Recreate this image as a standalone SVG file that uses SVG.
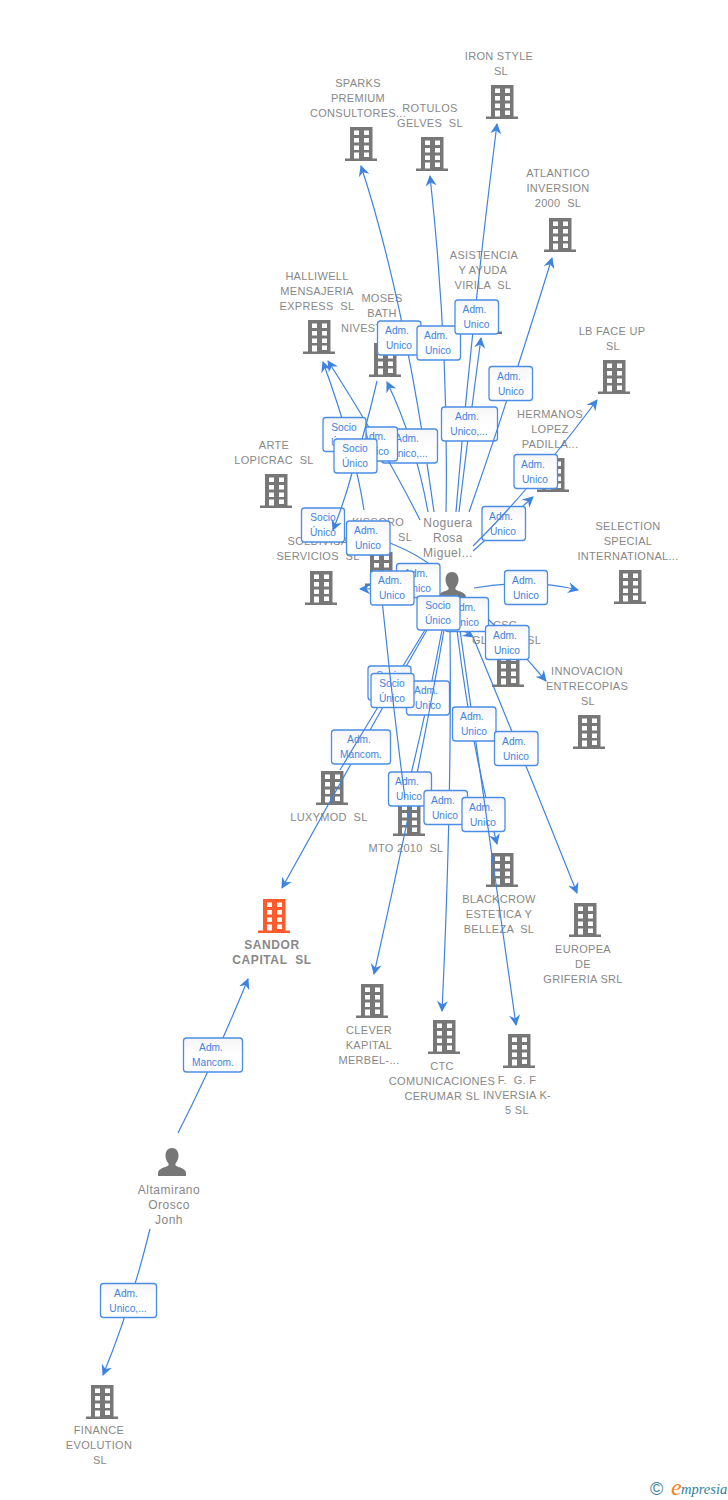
<svg xmlns="http://www.w3.org/2000/svg" width="728" height="1500" viewBox="0 0 728 1500">
<style>
.n{font:11px "Liberation Sans",Arial,sans-serif;letter-spacing:.3px;fill:#888;text-anchor:middle;white-space:pre}
.s{text-anchor:start}
.p{font-size:12px;letter-spacing:.5px}
.h{font-size:12px;font-weight:bold;letter-spacing:.6px}
.e{fill:none;stroke:#3f83e0;stroke-width:1.2}
.a{marker-end:url(#ar)}
.b{fill:url(#bg);stroke:#4a8ce6;stroke-width:1.3}
.t{font:10.2px "Liberation Sans",Arial,sans-serif;fill:#3f83e0;text-anchor:middle}
</style>
<defs>
<linearGradient id="bg" x1="0" y1="0" x2="0" y2="1"><stop offset="0" stop-color="#f5f5f5"/><stop offset=".5" stop-color="#fff"/></linearGradient>
<marker id="ar" viewBox="0 -6 11 12" refX="10" refY="0" markerWidth="11" markerHeight="12" markerUnits="userSpaceOnUse" orient="auto"><path d="M11 0L0 -5.5L3.5 0L0 5.5Z" fill="#3f83e0"/></marker>
<symbol id="bd" width="32" height="34" viewBox="0 0 32 34"><path fill="#777" fill-rule="evenodd" d="M5 0H27.500V31.500H32V34H0V31.500H5ZM9 3.500V8H14V3.500ZM19 3.500V8H24V3.500ZM9 11V15.500H14V11ZM19 11V15.500H24V11ZM9 18.500V23H14V18.500ZM19 18.500V23H24V18.500ZM19 25.500V30H24V25.500ZM9 25.500V31.500H14V25.500Z"/></symbol>
<symbol id="bo" width="32" height="34" viewBox="0 0 32 34"><path fill="#ff5a2b" fill-rule="evenodd" d="M5 0H27.500V31.500H32V34H0V31.500H5ZM9 3.500V8H14V3.500ZM19 3.500V8H24V3.500ZM9 11V15.500H14V11ZM19 11V15.500H24V11ZM9 18.500V23H14V18.500ZM19 18.500V23H24V18.500ZM19 25.500V30H24V25.500ZM9 25.500V31.500H14V25.500Z"/></symbol>
<symbol id="pe" width="28" height="28" viewBox="0 0 28 28"><path fill="#777" d="M14 0C18 0 20.500 3 20.500 7.500C20.500 11 19 14 17.500 15.500V17.500C21 19.500 28 20.500 28 25V28H0V25C0 20.500 7 19.500 10.500 17.500V15.500C9 14 7.500 11 7.500 7.500C7.500 3 10 0 14 0Z"/></symbol>
</defs>
<rect width="728" height="1500" fill="#fff"/>
<g id="n-iron"><use href="#bd" x="486" y="85"/><text class="n" x="499" y="60">IRON STYLE</text><text class="n" x="501" y="75">SL</text></g>
<g id="n-sparks"><use href="#bd" x="345" y="127"/><text class="n" x="358" y="87">SPARKS</text><text class="n" x="358" y="102">PREMIUM</text><text class="n" x="358" y="117">CONSULTORES...</text></g>
<g id="n-rotulos"><use href="#bd" x="416" y="137"/><text class="n" x="430" y="112">ROTULOS</text><text class="n" x="430" y="127">GELVES  SL</text></g>
<g id="n-atlantico"><use href="#bd" x="544" y="218"/><text class="n" x="558" y="177">ATLANTICO</text><text class="n" x="558" y="192">INVERSION</text><text class="n" x="558" y="207">2000  SL</text></g>
<g id="n-asistencia"><use href="#bd" x="470" y="300"/><text class="n" x="484" y="259">ASISTENCIA</text><text class="n" x="483" y="274">Y AYUDA</text><text class="n" x="483" y="289">VIRILA  SL</text></g>
<g id="n-halliwell"><use href="#bd" x="303" y="320"/><text class="n" x="317" y="280">HALLIWELL</text><text class="n" x="317" y="295">MENSAJERIA</text><text class="n" x="317" y="310">EXPRESS  SL</text></g>
<g id="n-moses"><use href="#bd" x="369" y="343"/><text class="n" x="382" y="302">MOSES</text><text class="n" x="382" y="317">BATH</text><text class="n s" x="341" y="332">NIVEST</text></g>
<g id="n-lbface"><use href="#bd" x="598" y="360"/><text class="n" x="612" y="335">LB FACE UP</text><text class="n" x="613" y="350">SL</text></g>
<g id="n-hermanos"><use href="#bd" x="537" y="458"/><text class="n" x="550" y="418">HERMANOS</text><text class="n" x="550" y="433">LOPEZ</text><text class="n" x="550" y="448">PADILLA...</text></g>
<g id="n-arte"><use href="#bd" x="260" y="474"/><text class="n" x="274" y="449">ARTE</text><text class="n" x="274" y="464">LOPICRAC  SL</text></g>
<g id="n-selection"><use href="#bd" x="614" y="570"/><text class="n" x="628" y="530">SELECTION</text><text class="n" x="628" y="545">SPECIAL</text><text class="n" x="628" y="560">INTERNATIONAL...</text></g>
<g id="n-soldivisa"><use href="#bd" x="305" y="571"/><text class="n" x="318" y="545">SOLDIVISA</text><text class="n" x="318" y="560">SERVICIOS  SL</text></g>
<g id="n-kissoro"><use href="#bd" x="365" y="552"/><text class="n" x="378" y="526">KISSORO</text><text class="n s" x="398" y="541">SL</text></g>
<g id="n-noguera"><use href="#pe" x="438" y="572"/><text class="n p" x="448" y="527">Noguera</text><text class="n p" x="448" y="542">Rosa</text><text class="n p" x="448" y="557">Miguel...</text></g>
<g id="n-csc"><use href="#bd" x="492" y="653"/><text class="n" x="505" y="629">CSC</text><text class="n s" x="472" y="644">GL</text><text class="n s" x="527" y="644">SL</text></g>
<g id="n-innovacion"><use href="#bd" x="573" y="715"/><text class="n" x="587" y="675">INNOVACION</text><text class="n" x="587" y="690">ENTRECOPIAS</text><text class="n" x="588" y="705">SL</text></g>
<g id="n-luxymod"><use href="#bd" x="316" y="771"/><text class="n" x="329" y="821">LUXYMOD  SL</text></g>
<g id="n-mto"><use href="#bd" x="393" y="802"/><text class="n" x="406" y="852">MTO 2010  SL</text></g>
<g id="n-blackcrow"><use href="#bd" x="486" y="853"/><text class="n" x="499" y="903">BLACKCROW</text><text class="n" x="499" y="918">ESTETICA Y</text><text class="n" x="499" y="933">BELLEZA  SL</text></g>
<g id="n-europea"><use href="#bd" x="569" y="903"/><text class="n" x="583" y="953">EUROPEA</text><text class="n" x="583" y="968">DE</text><text class="n" x="583" y="983">GRIFERIA SRL</text></g>
<g id="n-sandor"><use href="#bo" x="258" y="899"/><text class="n h" x="272" y="949">SANDOR</text><text class="n h" x="272" y="964">CAPITAL  SL</text></g>
<g id="n-clever"><use href="#bd" x="356" y="984"/><text class="n" x="369" y="1034">CLEVER</text><text class="n" x="369" y="1049">KAPITAL</text><text class="n" x="369" y="1064">MERBEL-...</text></g>
<g id="n-ctc"><use href="#bd" x="428" y="1020"/><text class="n" x="442" y="1070">CTC</text><text class="n" x="442" y="1085">COMUNICACIONES</text><text class="n" x="442" y="1100">CERUMAR SL</text></g>
<g id="n-fg"><use href="#bd" x="503" y="1034"/><text class="n" x="517" y="1084">F.  G. F</text><text class="n" x="517" y="1099">INVERSIA K-</text><text class="n" x="517" y="1114">5 SL</text></g>
<g id="n-altamirano"><use href="#pe" x="158" y="1148"/><text class="n p" x="169" y="1194">Altamirano</text><text class="n p" x="169" y="1209">Orosco</text><text class="n p" x="169" y="1224">Jonh</text></g>
<g id="n-finance"><use href="#bd" x="86" y="1385"/><text class="n" x="99" y="1434">FINANCE</text><text class="n" x="99" y="1449">EVOLUTION</text><text class="n" x="100" y="1464">SL</text></g>
<g id="connectors">
<g><path class="e a" d="M427 630Q375 720 282 888"/><rect class="b" x="331.500" y="730" width="59" height="34" rx="3"/><text class="t" x="359" y="743">Adm.</text><text class="t" x="361" y="758">Mancom.</text></g>
<g><path class="e" d="M425 630Q385 695 340 770"/><rect class="b" x="368" y="666" width="43" height="34" rx="3"/><text class="t" x="389" y="679">Socio</text><text class="t" x="389" y="694">Único</text></g>
<g><path class="e" d="M442 630Q425 720 405 798"/><rect class="b" x="406.500" y="681" width="43" height="34" rx="3"/><text class="t" x="426" y="694">Adm.</text><text class="t" x="428" y="709">Unico</text></g>
<g><path class="e a" d="M444 630Q420 770 374 974"/><rect class="b" x="388.500" y="772" width="43" height="34" rx="3"/><text class="t" x="407" y="785">Adm.</text><text class="t" x="409" y="800">Unico</text></g>
<g><path class="e a" d="M450 630Q452 800 442 1011"/><rect class="b" x="424" y="790.500" width="43.500" height="34" rx="3"/><text class="t" x="443" y="803.500">Adm.</text><text class="t" x="445" y="818.500">Unico</text></g>
<g><path class="e a" d="M457 630Q470 740 497 844"/><rect class="b" x="462" y="797.500" width="43" height="34" rx="3"/><text class="t" x="481" y="810.500">Adm.</text><text class="t" x="483" y="825.500">Unico</text></g>
<g><path class="e a" d="M460 630Q486 810 516 1025"/><rect class="b" x="452.500" y="707" width="43.500" height="34" rx="3"/><text class="t" x="472" y="720">Adm.</text><text class="t" x="474" y="735">Unico</text></g>
<g><path class="e a" d="M473 637Q520 750 577 893"/><rect class="b" x="494.500" y="731.500" width="43.500" height="34" rx="3"/><text class="t" x="514" y="744.500">Adm.</text><text class="t" x="516" y="759.500">Unico</text></g>
<g><rect class="b" x="301.500" y="508" width="43" height="34" rx="3"/><text class="t" x="323" y="521">Socio</text><text class="t" x="323" y="536">Único</text><path class="e a" d="M352 473Q345 500 333 530"/></g>
<g><path class="e" d="M437 570Q420 555 390 543"/><rect class="b" x="346.500" y="521" width="43.500" height="34" rx="3"/><text class="t" x="366" y="534">Adm.</text><text class="t" x="368" y="549">Unico</text></g>
<g><path class="e a" d="M438 590Q400 588 360 589"/><rect class="b" x="396.500" y="563.500" width="43.500" height="34" rx="3"/><text class="t" x="416" y="576.500">Adm.</text><text class="t" x="418" y="591.500">Unico</text></g>
<g><rect class="b" x="371" y="673.500" width="43" height="34" rx="3"/><text class="t" x="392" y="687">Socio</text><text class="t" x="392" y="702">Único</text></g>
<g><path class="e" d="M382 600Q392 700 405 798"/><rect class="b" x="370.500" y="571" width="43.500" height="34" rx="3"/><text class="t" x="390" y="584">Adm.</text><text class="t" x="392" y="599">Unico</text></g>
<g><path class="e a" d="M434 512Q405 300 361 166"/><rect class="b" x="377.500" y="321" width="43.500" height="34" rx="3"/><text class="t" x="397" y="334">Adm.</text><text class="t" x="399" y="349">Unico</text></g>
<g><path class="e a" d="M446 512Q449 350 430 176"/><rect class="b" x="417" y="326" width="43.500" height="34" rx="3"/><text class="t" x="436" y="339">Adm.</text><text class="t" x="438" y="354">Unico</text></g>
<g><path class="e a" d="M456 512Q470 340 497 124"/><rect class="b" x="455" y="300" width="43.500" height="34" rx="3"/><text class="t" x="474.500" y="313">Adm.</text><text class="t" x="476.500" y="328">Unico</text></g>
<g><path class="e a" d="M459 512Q470 420 481 338"/><rect class="b" x="441.500" y="407" width="56" height="34" rx="3"/><text class="t" x="467" y="420">Adm.</text><text class="t" x="469" y="435">Unico,...</text></g>
<g><path class="e a" d="M469 512Q505 410 552 258"/><rect class="b" x="489" y="366.500" width="43.500" height="34" rx="3"/><text class="t" x="509" y="379.500">Adm.</text><text class="t" x="511" y="394.500">Unico</text></g>
<g><path class="e a" d="M428 512Q415 440 387 382"/><rect class="b" x="381.500" y="429" width="56" height="34" rx="3"/><text class="t" x="407" y="442">Adm.</text><text class="t" x="409" y="457">Unico,...</text></g>
<g><path class="e a" d="M420 520Q385 450 328 361"/><rect class="b" x="354" y="427" width="43.500" height="34" rx="3"/><text class="t" x="374" y="440">Adm.</text><text class="t" x="376" y="455">Unico</text></g>
<g><path class="e a" d="M364 510Q355 450 323 362"/><rect class="b" x="323" y="417.500" width="43" height="34" rx="3"/><text class="t" x="344" y="431">Socio</text><text class="t" x="344" y="446">Único</text></g>
<g><path class="e" d="M377 381Q367 425 352 473"/><rect class="b" x="334" y="439" width="43" height="34" rx="3"/><text class="t" x="355" y="452">Socio</text><text class="t" x="355" y="467">Único</text></g>
<g><path class="e a" d="M473 551L533 497"/><rect class="b" x="482" y="506.500" width="43.500" height="34" rx="3"/><text class="t" x="501" y="519.500">Adm.</text><text class="t" x="503" y="534.500">Unico</text></g>
<g><path class="e a" d="M473 546Q530 490 597 400"/><rect class="b" x="514" y="454.500" width="43.500" height="34" rx="3"/><text class="t" x="533" y="467.500">Adm.</text><text class="t" x="535" y="482.500">Unico</text></g>
<g><path class="e a" d="M474 588Q530 578 578 590"/><rect class="b" x="504.500" y="570.500" width="43" height="34" rx="3"/><text class="t" x="524" y="584">Adm.</text><text class="t" x="526" y="599">Unico</text></g>
<g><path class="e a" d="M455 625L473 637"/><rect class="b" x="445" y="597.500" width="43.500" height="34" rx="3"/><text class="t" x="464" y="610.500">Adm.</text><text class="t" x="466" y="625.500">Unico</text></g>
<g><rect class="b" x="417" y="596" width="43" height="34" rx="3"/><text class="t" x="438" y="609">Socio</text><text class="t" x="438" y="624">Único</text></g>
<g><path class="e a" d="M488 619Q520 650 546 681"/><rect class="b" x="485.500" y="625.500" width="43.500" height="34" rx="3"/><text class="t" x="505" y="638.500">Adm.</text><text class="t" x="507" y="653.500">Unico</text></g>
<g><path class="e a" d="M178 1133Q215 1060 248 979"/><rect class="b" x="183.500" y="1038" width="59" height="34" rx="3"/><text class="t" x="211" y="1051">Adm.</text><text class="t" x="213" y="1066">Mancom.</text></g>
<g><path class="e a" d="M150 1229Q130 1310 103 1375"/><rect class="b" x="100.500" y="1283.500" width="56" height="34" rx="3"/><text class="t" x="126" y="1296.500">Adm.</text><text class="t" x="128" y="1311.500">Unico,...</text></g>
</g>
<g id="logo"><text x="650" y="1495" font-family="'Liberation Sans',sans-serif" font-size="18" fill="#3f7f9f">©</text><text x="671" y="1495" font-family="'Liberation Serif',serif" font-size="24" font-style="italic" fill="#f58220">e</text><text x="681" y="1494" font-family="'Liberation Serif',serif" font-size="14.500" font-style="italic" fill="#2f7f9f">mpresia</text></g>
</svg>
